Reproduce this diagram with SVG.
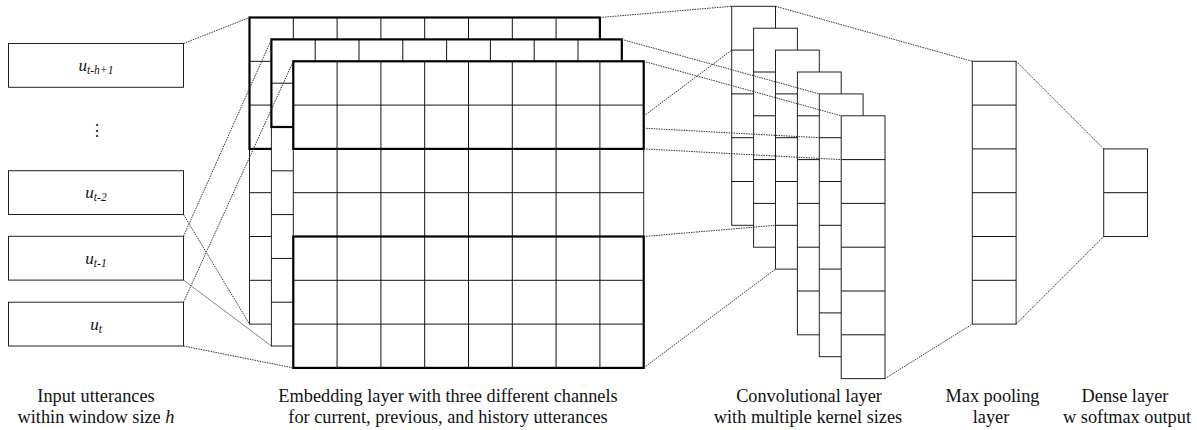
<svg xmlns="http://www.w3.org/2000/svg" width="1197" height="430" viewBox="0 0 1197 430">
  <style>
    .box { fill: #fff; stroke: #222; stroke-width: 1; }
    .grid { fill: none; stroke: #111; stroke-width: 1; }
    .bold { fill: none; stroke: #000; stroke-width: 2.2; }
    .link { fill: none; stroke: #333; stroke-width: 1; stroke-dasharray: 1.5 1; }
    .lbl { font-family: "Liberation Serif", "Times New Roman", serif; font-size: 18.3px; text-anchor: middle; fill: #111; }
    .var { font-family: "Liberation Serif", "Times New Roman", serif; font-style: italic; font-size: 17px; text-anchor: middle; fill: #111; }
    .sub { font-size: 11.5px; }
    .dots { font-family: "DejaVu Serif", serif; font-size: 16px; text-anchor: middle; fill: #111; }
  </style>

  <!-- input utterances -->
  <g id="input-t-h1">
    <rect class="box" x="8.5" y="43.5" width="175" height="43.8"/>
    <text class="var" x="96" y="70.5">u<tspan class="sub" dy="3">t-h+1</tspan></text>
  </g>
  <g id="input-ellipsis">
    <text class="dots" x="96.5" y="136">⋮</text>
  </g>
  <g id="input-t-2">
    <rect class="box" x="8.5" y="170.7" width="175" height="43.8"/>
    <text class="var" x="96" y="198">u<tspan class="sub" dy="3">t-2</tspan></text>
  </g>
  <g id="input-t-1">
    <rect class="box" x="8.5" y="236.3" width="175" height="43.8"/>
    <text class="var" x="96" y="263.5">u<tspan class="sub" dy="3">t-1</tspan></text>
  </g>
  <g id="input-t">
    <rect class="box" x="8.5" y="302.2" width="175" height="43.8"/>
    <text class="var" x="96" y="329.5">u<tspan class="sub" dy="3">t</tspan></text>
  </g>

  <!-- embedding layer: history, previous, current channels (back to front) -->
  <g id="emb-history">
    <rect class="box" x="249.5" y="17.5" width="350.4" height="306.6"/>
    <path class="grid" d="M293.3 17.5V324.1M337.1 17.5V324.1M380.9 17.5V324.1M424.7 17.5V324.1M468.5 17.5V324.1M512.3 17.5V324.1M556.1 17.5V324.1
      M249.5 61.3H599.9M249.5 105.1H599.9M249.5 148.9H599.9M249.5 192.7H599.9M249.5 236.5H599.9M249.5 280.3H599.9"/>
    <rect class="bold" x="249.5" y="17.5" width="350.4" height="131.4"/>
  </g>
  <g id="emb-previous">
    <rect class="box" x="271.4" y="39.4" width="350.4" height="306.6"/>
    <path class="grid" d="M315.2 39.4V346M359 39.4V346M402.8 39.4V346M446.6 39.4V346M490.4 39.4V346M534.2 39.4V346M578 39.4V346
      M271.4 83.2H621.8M271.4 127H621.8M271.4 170.8H621.8M271.4 214.6H621.8M271.4 258.4H621.8M271.4 302.2H621.8"/>
    <rect class="bold" x="271.4" y="39.4" width="350.4" height="87.6"/>
  </g>
  <g id="emb-current">
    <rect class="box" x="293.3" y="61.3" width="350.4" height="306.6"/>
    <path class="grid" d="M337.1 61.3V367.9M380.9 61.3V367.9M424.7 61.3V367.9M468.5 61.3V367.9M512.3 61.3V367.9M556.1 61.3V367.9M599.9 61.3V367.9
      M293.3 105.1H643.7M293.3 148.9H643.7M293.3 192.7H643.7M293.3 236.5H643.7M293.3 280.3H643.7M293.3 324.1H643.7"/>
    <rect class="bold" x="293.3" y="61.3" width="350.4" height="87.6"/>
    <rect class="bold" x="293.3" y="236.5" width="350.4" height="131.4"/>
  </g>

  <!-- convolutional feature maps -->
  <g id="conv-1">
    <rect class="box" x="731.7" y="6.3" width="43.8" height="219"/>
    <path class="grid" d="M731.7 50.1h43.8M731.7 93.9h43.8M731.7 137.7h43.8M731.7 181.5h43.8"/>
  </g>
  <g id="conv-2">
    <rect class="box" x="753.6" y="28.2" width="43.8" height="219"/>
    <path class="grid" d="M753.6 72h43.8M753.6 115.8h43.8M753.6 159.6h43.8M753.6 203.4h43.8"/>
  </g>
  <g id="conv-3">
    <rect class="box" x="775.5" y="50.1" width="43.8" height="219"/>
    <path class="grid" d="M775.5 93.9h43.8M775.5 137.7h43.8M775.5 181.5h43.8M775.5 225.3h43.8"/>
  </g>
  <g id="conv-4">
    <rect class="box" x="797.4" y="72" width="43.8" height="262.8"/>
    <path class="grid" d="M797.4 115.8h43.8M797.4 159.6h43.8M797.4 203.4h43.8M797.4 247.2h43.8M797.4 291h43.8"/>
  </g>
  <g id="conv-5">
    <rect class="box" x="819.3" y="93.9" width="43.8" height="262.8"/>
    <path class="grid" d="M819.3 137.7h43.8M819.3 181.5h43.8M819.3 225.3h43.8M819.3 269.1h43.8M819.3 312.9h43.8"/>
  </g>
  <g id="conv-6">
    <rect class="box" x="841.2" y="115.8" width="43.8" height="262.8"/>
    <path class="grid" d="M841.2 159.6h43.8M841.2 203.4h43.8M841.2 247.2h43.8M841.2 291h43.8M841.2 334.8h43.8"/>
  </g>

  <!-- max pooling -->
  <g id="max-pool">
    <rect class="box" x="972.3" y="61.3" width="43.8" height="262.8"/>
    <path class="grid" d="M972.3 105.1h43.8M972.3 148.9h43.8M972.3 192.7h43.8M972.3 236.5h43.8M972.3 280.3h43.8"/>
  </g>

  <!-- dense output -->
  <g id="dense">
    <rect class="box" x="1103.7" y="148.9" width="43.8" height="87.6"/>
    <path class="grid" d="M1103.7 192.7h43.8"/>
  </g>

  <!-- dotted projections between layers -->
  <g id="connectors">
    <path class="link" d="M183.5 43.5L249.5 17.5"/>
    <path class="link" d="M183.5 214.5L249.5 324.1"/>
    <path class="link" d="M183.5 236.3L271.4 39.4"/>
    <path class="link" d="M183.5 280.1L271.4 346"/>
    <path class="link" d="M183.5 302.2L293.3 61.3"/>
    <path class="link" d="M183.5 346L293.3 367.9"/>

    <path class="link" d="M599.9 17.5L731.7 6.3"/>
    <path class="link" d="M643.7 116.1L731.7 50.1"/>
    <path class="link" d="M621.8 39.4L819.3 93.9"/>
    <path class="link" d="M643.7 128.2L819.3 137.7"/>
    <path class="link" d="M643.7 61.3L841.2 115.8"/>
    <path class="link" d="M643.7 148.9L841.2 159.6"/>
    <path class="link" d="M643.7 236.5L775.5 225.3"/>
    <path class="link" d="M643.7 367.9L775.5 269.1"/>

    <path class="link" d="M775.5 6.3L972.3 61.3"/>
    <path class="link" d="M885 378.6L972.3 324.1"/>

    <path class="link" d="M1016.1 61.3L1103.7 148.9"/>
    <path class="link" d="M1016.1 324.1L1103.7 236.5"/>
  </g>

  <!-- layer captions -->
  <g id="captions">
    <text class="lbl" x="96" y="402">Input utterances</text>
    <text class="lbl" x="96" y="423">within window size <tspan font-style="italic">h</tspan></text>
    <text class="lbl" x="448" y="402">Embedding layer with three different channels</text>
    <text class="lbl" x="448" y="423">for current, previous, and history utterances</text>
    <text class="lbl" x="809" y="402">Convolutional layer</text>
    <text class="lbl" x="808" y="423">with multiple kernel sizes</text>
    <text class="lbl" x="992.5" y="402">Max pooling</text>
    <text class="lbl" x="991" y="423">layer</text>
    <text class="lbl" x="1125" y="402">Dense layer</text>
    <text class="lbl" x="1127" y="423">w softmax output</text>
  </g>
</svg>
